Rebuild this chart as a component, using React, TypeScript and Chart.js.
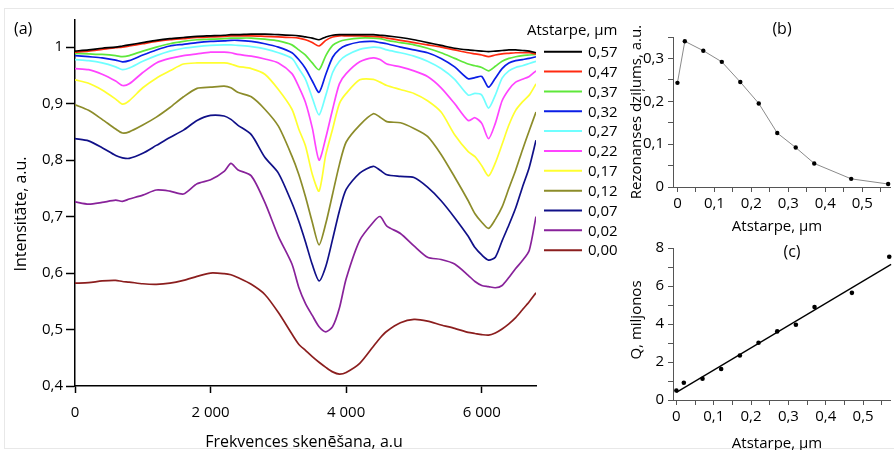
import React, { useEffect, useRef } from "react";
import { Chart, registerables } from "chart.js";
Chart.register(...registerables);

const FONT = '"Open Sans", "DejaVu Sans", sans-serif';

// ---------- (a) spectra ----------
const FREQ = [0, 200, 400, 600, 700, 800, 1000, 1200, 1400, 1600, 1800, 2000, 2200, 2300, 2400, 2600, 2800, 3000, 3200, 3300, 3400, 3500, 3600, 3700, 3800, 3900, 4000, 4200, 4400, 4500, 4600, 4800, 5000, 5200, 5400, 5600, 5800, 5900, 6000, 6100, 6200, 6300, 6400, 6500, 6600, 6700, 6800];

const S_057 = [0.993, 0.995, 0.998, 1.0, 1.002, 1.004, 1.008, 1.012, 1.015, 1.017, 1.019, 1.02, 1.021, 1.022, 1.022, 1.023, 1.023, 1.022, 1.021, 1.02, 1.018, 1.016, 1.013, 1.018, 1.021, 1.022, 1.022, 1.022, 1.022, 1.021, 1.02, 1.017, 1.013, 1.008, 1.003, 0.998, 0.995, 0.994, 0.993, 0.992, 0.993, 0.994, 0.995, 0.995, 0.994, 0.993, 0.99];
const S_047 = [0.991, 0.993, 0.996, 0.999, 1.0, 1.002, 1.006, 1.01, 1.013, 1.015, 1.017, 1.018, 1.019, 1.02, 1.02, 1.02, 1.019, 1.018, 1.017, 1.016, 1.013, 1.008, 1.002, 1.012, 1.018, 1.02, 1.02, 1.02, 1.019, 1.018, 1.016, 1.012, 1.008, 1.004, 1.0, 0.995, 0.99, 0.988, 0.986, 0.983, 0.986, 0.988, 0.989, 0.99, 0.99, 0.99, 0.988];
const S_037 = [0.989, 0.988, 0.987, 0.985, 0.983, 0.985, 0.993, 1.0, 1.006, 1.01, 1.013, 1.014, 1.015, 1.016, 1.016, 1.016, 1.014, 1.011, 1.004, 0.995, 0.986, 0.972, 0.96, 0.985, 1.003, 1.01, 1.013, 1.016, 1.016, 1.015, 1.012, 1.008, 1.004, 0.998, 0.99, 0.98, 0.97, 0.967, 0.964, 0.958, 0.966, 0.975, 0.98, 0.983, 0.985, 0.986, 0.987];
const S_032 = [0.985, 0.983, 0.981, 0.977, 0.974, 0.976, 0.986, 0.995, 1.002, 1.005, 1.008, 1.01, 1.011, 1.012, 1.012, 1.01, 1.006, 1.0, 0.99, 0.978, 0.962, 0.94, 0.92, 0.952, 0.982, 0.996, 1.003, 1.009, 1.01, 1.008, 1.006, 1.0, 0.995, 0.99, 0.98, 0.965, 0.944, 0.946, 0.948, 0.929, 0.945, 0.962, 0.972, 0.976, 0.978, 0.98, 0.983];
const S_027 = [0.978, 0.976, 0.972, 0.965, 0.96, 0.963, 0.975, 0.985, 0.993, 0.998, 1.001, 1.003, 1.004, 1.004, 1.003, 1.001, 0.997, 0.99, 0.98, 0.962, 0.943, 0.91, 0.88, 0.915, 0.955, 0.975, 0.985, 0.996, 1.0, 0.999, 0.995, 0.99, 0.984, 0.975, 0.962, 0.943, 0.915, 0.918, 0.915, 0.892, 0.915, 0.945, 0.958, 0.964, 0.967, 0.971, 0.975];
const S_022 = [0.962, 0.96, 0.952, 0.94, 0.932, 0.935, 0.955, 0.972, 0.98, 0.985, 0.988, 0.991, 0.991, 0.99, 0.987, 0.984, 0.979, 0.972, 0.953, 0.93, 0.902, 0.857, 0.8, 0.84, 0.89, 0.935, 0.953, 0.974, 0.981, 0.978, 0.97, 0.965, 0.958, 0.948, 0.928, 0.9, 0.87, 0.875, 0.865, 0.838, 0.865, 0.905, 0.925, 0.938, 0.943, 0.948, 0.958];
const S_017 = [0.942, 0.936, 0.924, 0.908, 0.899, 0.905, 0.928, 0.945, 0.958, 0.97, 0.972, 0.972, 0.972, 0.97, 0.966, 0.962, 0.952, 0.925, 0.89, 0.855, 0.825, 0.775, 0.745, 0.81, 0.855, 0.9, 0.918, 0.942, 0.943, 0.938, 0.932, 0.925, 0.918, 0.905, 0.885, 0.845, 0.815, 0.806, 0.79, 0.772, 0.795, 0.828, 0.862, 0.888, 0.903, 0.915, 0.935];
const S_012 = [0.898, 0.888, 0.872, 0.855, 0.848, 0.85, 0.862, 0.876, 0.893, 0.912, 0.927, 0.929, 0.931, 0.928, 0.92, 0.912, 0.89, 0.86, 0.807, 0.775, 0.735, 0.69, 0.65, 0.688, 0.74, 0.792, 0.832, 0.862, 0.882, 0.876, 0.868, 0.866, 0.856, 0.842, 0.81, 0.77, 0.728, 0.705, 0.69, 0.679, 0.695, 0.717, 0.75, 0.782, 0.818, 0.852, 0.885];
const S_007 = [0.838, 0.834, 0.822, 0.808, 0.804, 0.803, 0.812, 0.826, 0.84, 0.853, 0.87, 0.879, 0.878, 0.872, 0.862, 0.845, 0.805, 0.777, 0.724, 0.692, 0.655, 0.615, 0.586, 0.612, 0.66, 0.71, 0.748, 0.777, 0.789, 0.782, 0.774, 0.771, 0.769, 0.752, 0.728, 0.698, 0.665, 0.645, 0.632, 0.623, 0.628, 0.657, 0.685, 0.715, 0.752, 0.787, 0.835];
const S_002 = [0.726, 0.722, 0.725, 0.729, 0.727, 0.731, 0.738, 0.747, 0.745, 0.74, 0.758, 0.765, 0.78, 0.794, 0.783, 0.772, 0.725, 0.665, 0.616, 0.575, 0.546, 0.525, 0.505, 0.496, 0.505, 0.538, 0.59, 0.658, 0.69, 0.7, 0.683, 0.67, 0.648, 0.628, 0.624, 0.616, 0.596, 0.585, 0.578, 0.576, 0.574, 0.578, 0.592, 0.608, 0.622, 0.64, 0.7];
const S_000 = [0.582, 0.583, 0.586, 0.587, 0.585, 0.584, 0.581, 0.58, 0.582, 0.587, 0.594, 0.6, 0.599, 0.597, 0.592, 0.58, 0.562, 0.53, 0.492, 0.474, 0.463, 0.452, 0.442, 0.433, 0.425, 0.421, 0.424, 0.44, 0.47, 0.485, 0.497, 0.512, 0.518, 0.515, 0.508, 0.502, 0.495, 0.493, 0.491, 0.49, 0.494, 0.501, 0.51, 0.521, 0.535, 0.549, 0.565];

const SERIES = [S_057, S_047, S_037, S_032, S_027, S_022, S_017, S_012, S_007, S_002, S_000];
const GAP_LABELS = ["0,57", "0,47", "0,37", "0,32", "0,27", "0,22", "0,17", "0,12", "0,07", "0,02", "0,00"];
const GAP_COLORS = ["#000000", "#ff2a10", "#5ee83a", "#0a1ee6", "#70ffff", "#ff44ff", "#ffff30", "#8c8c2a", "#101088", "#88229a", "#8b1e1e"];

const MAIN_X_TICKS = [0, 2000, 4000, 6000];
const MAIN_Y_TICKS = [0.4, 0.5, 0.6, 0.7, 0.8, 0.9, 1.0];

// ---------- (b) and (c) ----------
const GAP = [0, 0.02, 0.07, 0.12, 0.17, 0.22, 0.27, 0.32, 0.37, 0.47, 0.57];
const DEPTH = [0.243, 0.34, 0.318, 0.292, 0.245, 0.195, 0.126, 0.092, 0.055, 0.019, 0.007];
const Q_MILLION = [0.5, 0.91, 1.12, 1.63, 2.34, 3.01, 3.61, 3.96, 4.89, 5.64, 7.54];
const FIT_X = [0, 0.575];
const FIT_Y = [0.4, 7.14];

const GAP_TICKS = [0, 0.05, 0.1, 0.15, 0.2, 0.25, 0.3, 0.35, 0.4, 0.45, 0.5, 0.55];
const DEPTH_TICKS = [0, 0.05, 0.1, 0.15, 0.2, 0.25, 0.3, 0.35];
const Q_TICKS = [0, 1, 2, 3, 4, 5, 6, 7, 8];

function fmt(v: number): string {
  if (Math.abs(v) < 1e-9) return "0";
  if (v >= 1000) {
    const th = Math.floor(v / 1000);
    const rest = Math.round(v % 1000);
    return `${th} ${String(rest).padStart(3, "0")}`;
  }
  const r = Math.round(v * 100) / 100;
  return String(r).replace(".", ",");
}
const isTenth = (v: number) => Math.abs(v * 10 - Math.round(v * 10)) < 1e-6;

function setTicks(arr: number[]) {
  return (scale: any) => {
    scale.ticks = arr.map((v) => ({ value: v }));
  };
}

function textPlugin(id: string, draw: (ctx: CanvasRenderingContext2D) => void) {
  return {
    id,
    afterDraw(chart: any) {
      const ctx = chart.ctx as CanvasRenderingContext2D;
      ctx.save();
      ctx.fillStyle = "#000";
      draw(ctx);
      ctx.restore();
    },
  };
}

function rotText(ctx: CanvasRenderingContext2D, text: string, x: number, y: number) {
  ctx.save();
  ctx.translate(x, y);
  ctx.rotate(-Math.PI / 2);
  ctx.textAlign = "center";
  ctx.textBaseline = "middle";
  ctx.fillText(text, 0, 0);
  ctx.restore();
}

export default function App() {
  const aRef = useRef<HTMLCanvasElement>(null);
  const bRef = useRef<HTMLCanvasElement>(null);
  const cRef = useRef<HTMLCanvasElement>(null);

  useEffect(() => {
    const charts: Chart[] = [];

    // ---- panel (a)
    const mainPlugin = textPlugin("mainText", (ctx) => {
      ctx.font = `16px ${FONT}`;
      ctx.textAlign = "left";
      ctx.textBaseline = "middle";
      ctx.fillText("(a)", 14, 29);

      ctx.font = `16px ${FONT}`;
      rotText(ctx, "Intensitāte, a.u.", 21, 214);
      ctx.textAlign = "center";
      ctx.textBaseline = "alphabetic";
      ctx.fillText("Frekvences skenēšana, a.u", 304, 447);

      // legend
      ctx.font = `15px ${FONT}`;
      ctx.textAlign = "left";
      ctx.textBaseline = "middle";
      ctx.fillText("Atstarpe, µm", 527, 31);
      GAP_LABELS.forEach((lab, i) => {
        const y = 51.7 + i * 19.85;
        ctx.strokeStyle = GAP_COLORS[i];
        ctx.lineWidth = 2;
        ctx.beginPath();
        ctx.moveTo(544, y);
        ctx.lineTo(582, y);
        ctx.stroke();
        ctx.fillStyle = "#000";
        ctx.fillText(lab, 588, y + 1);
      });
    });

    charts.push(
      new Chart(aRef.current!, {
        type: "line",
        data: {
          datasets: SERIES.map((s, i) => ({
            label: GAP_LABELS[i],
            data: FREQ.map((x, j) => ({ x, y: s[j] })),
            borderColor: GAP_COLORS[i],
            borderWidth: 1.7,
            pointRadius: 0,
            tension: 0.25,
            fill: false,
          })),
        },
        options: {
          responsive: false,
          animation: false,
          layout: { padding: { left: 0, top: 20, right: 84, bottom: 0 } },
          plugins: { legend: { display: false }, tooltip: { enabled: false } },
          scales: {
            x: {
              type: "linear",
              min: 0,
              max: 6800,
              afterBuildTicks: setTicks(MAIN_X_TICKS),
              afterFit: (s: any) => {
                s.height = 64;
              },
              ticks: {
                callback: (v: any) => fmt(Number(v)),
                font: { family: FONT, size: 15 },
                color: "#000",
                padding: 11,
                maxRotation: 0,
                autoSkip: false,
              },
              grid: { display: true, drawOnChartArea: false, drawTicks: true, tickLength: 7, color: "#000", tickWidth: 1.5 },
              border: { display: true, color: "#000", width: 1.5 },
            },
            y: {
              type: "linear",
              min: 0.4,
              max: 1.048,
              afterBuildTicks: setTicks(MAIN_Y_TICKS),
              afterFit: (s: any) => {
                s.width = 75;
              },
              ticks: {
                callback: (v: any) => fmt(Number(v)),
                font: { family: FONT, size: 15 },
                color: "#000",
                padding: 3,
                autoSkip: false,
              },
              grid: { display: true, drawOnChartArea: false, drawTicks: true, tickLength: 9, color: "#000", tickWidth: 1.5 },
              border: { display: true, color: "#000", width: 1.5 },
            },
          },
        },
        plugins: [mainPlugin],
      } as any)
    );

    const smallAxis = (ticks: number[], major: (v: number) => boolean, min: number, max: number, fit: (s: any) => void, padding: number) => ({
      type: "linear",
      min,
      max,
      afterBuildTicks: setTicks(ticks),
      afterFit: fit,
      ticks: {
        callback: (v: any) => (major(Number(v)) ? fmt(Number(v)) : ""),
        font: { family: FONT, size: 15 },
        color: "#000",
        padding,
        maxRotation: 0,
        autoSkip: false,
      },
      grid: { display: true, drawOnChartArea: false, drawTicks: true, tickLength: 5, color: "#555", tickWidth: 1 },
      border: { display: true, color: "#555", width: 1 },
    });

    // ---- panel (b)
    const bPlugin = textPlugin("bText", (ctx) => {
      ctx.font = `16px ${FONT}`;
      ctx.textAlign = "center";
      ctx.textBaseline = "middle";
      ctx.fillText("(b)", 162, 29);
      ctx.font = `15px ${FONT}`;
      rotText(ctx, "Rezonanses dziļums, a.u.", 17, 112);
      ctx.textAlign = "center";
      ctx.textBaseline = "alphabetic";
      ctx.fillText("Atstarpe, µm", 157, 231);
    });

    charts.push(
      new Chart(bRef.current!, {
        type: "line",
        data: {
          datasets: [
            {
              data: GAP.map((x, i) => ({ x, y: DEPTH[i] })),
              borderColor: "#8a8a8a",
              borderWidth: 1,
              pointRadius: 2.2,
              pointBackgroundColor: "#000",
              pointBorderWidth: 0,
              tension: 0,
              clip: false,
            },
          ],
        },
        options: {
          responsive: false,
          animation: false,
          layout: { padding: { left: 0, top: 37, right: 0, bottom: 0 } },
          plugins: { legend: { display: false }, tooltip: { enabled: false } },
          scales: {
            x: smallAxis(GAP_TICKS, isTenth, -0.012, 0.575, (s: any) => { s.height = 48; }, 3),
            y: smallAxis(DEPTH_TICKS, isTenth, 0, 0.35, (s: any) => { s.width = 53; }, 4),
          },
        },
        plugins: [bPlugin],
      } as any)
    );

    // ---- panel (c)
    const cPlugin = textPlugin("cText", (ctx) => {
      ctx.font = `16px ${FONT}`;
      ctx.textAlign = "center";
      ctx.textBaseline = "middle";
      ctx.fillText("(c)", 172, 17);
      ctx.font = `15px ${FONT}`;
      rotText(ctx, "Q, miljonos", 17, 85);
      ctx.textAlign = "center";
      ctx.textBaseline = "alphabetic";
      ctx.fillText("Atstarpe, µm", 157, 213);
    });

    charts.push(
      new Chart(cRef.current!, {
        type: "line",
        data: {
          datasets: [
            {
              data: GAP.map((x, i) => ({ x, y: Q_MILLION[i] })),
              showLine: false,
              pointRadius: 2.3,
              pointBackgroundColor: "#000",
              pointBorderWidth: 0,
              clip: false,
            },
            {
              data: FIT_X.map((x, i) => ({ x, y: FIT_Y[i] })),
              borderColor: "#000",
              borderWidth: 1.3,
              pointRadius: 0,
              tension: 0,
              clip: false,
            },
          ],
        },
        options: {
          responsive: false,
          animation: false,
          layout: { padding: { left: 0, top: 10, right: 0, bottom: 0 } },
          plugins: { legend: { display: false }, tooltip: { enabled: false } },
          scales: {
            x: smallAxis(GAP_TICKS, isTenth, -0.009, 0.572, (s: any) => { s.height = 50; }, 3),
            y: smallAxis(Q_TICKS, (v) => v % 2 === 0, 0, 8, (s: any) => { s.width = 53; }, 4),
          },
        },
        plugins: [cPlugin],
      } as any)
    );

    return () => charts.forEach((c) => c.destroy());
  }, []);

  return (
    <div style={{ position: "absolute", left: 0, top: 0, width: 894, height: 450, background: "#fff", overflow: "hidden" }}>
      <div style={{ position: "absolute", left: 4, top: 8, width: 900, height: 439, border: "1px solid #e8e8e8" }} />
      <canvas ref={aRef} width={620} height={450} style={{ position: "absolute", left: 0, top: 0, width: 620, height: 450 }} />
      <canvas ref={bRef} width={274} height={235} style={{ position: "absolute", left: 620, top: 0, width: 274, height: 235 }} />
      <canvas ref={cRef} width={274} height={215} style={{ position: "absolute", left: 620, top: 235, width: 274, height: 215 }} />
    </div>
  );
}
